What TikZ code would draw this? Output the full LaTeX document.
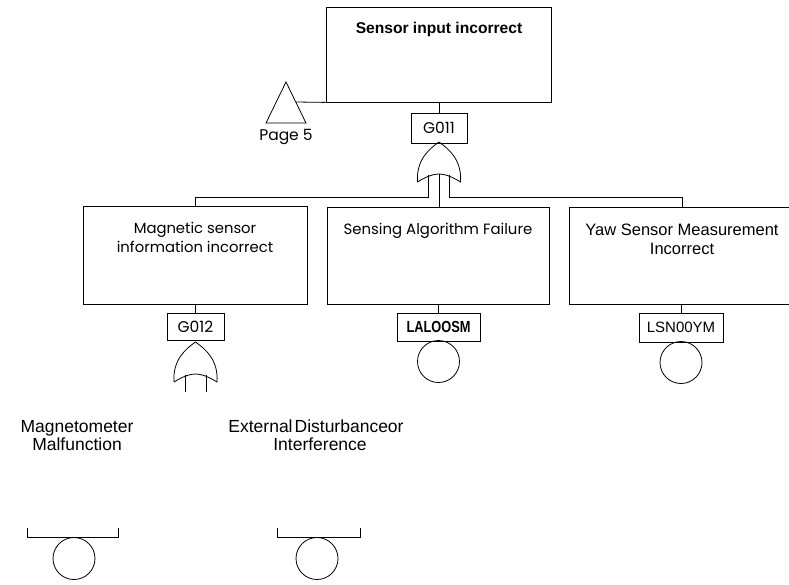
\documentclass[tikz,border=0pt]{standalone}
\usepackage{fontspec}
\usepackage{graphicx}
\setmainfont{Liberation Sans}
\newfontfamily\geo{Poppins}
\begin{document}
\begin{tikzpicture}[x=1pt,y=-1pt,line width=0.8pt,
  evbox/.style={draw,rectangle,inner sep=0pt},
  tagbox/.style={draw,rectangle,inner sep=0pt},
  basic/.style={draw,circle,minimum size=42pt,inner sep=0pt},
  geotext/.style={font=\geo\fontsize{14.8}{17}\selectfont,anchor=base,inner sep=0pt},
  armtext/.style={font=\fontsize{16.5}{19}\selectfont,anchor=base,inner sep=0pt},
  lowtext/.style={font=\fontsize{17.5}{20}\selectfont,anchor=base,inner sep=0pt},
  tagtext/.style={font=\geo\fontsize{15.5}{17}\selectfont},
  orgate/.pic={
    \draw (-21.5,40) .. controls (-23,18) and (-10,7) .. (0,0)
      .. controls (10,7) and (23,18) .. (21.5,40)
      .. controls (12,34) and (5,32) .. (0,32)
      .. controls (-5,32) and (-12,34) .. (-21.5,40);
  }]
\clip (0,0) rectangle (789,584);
\fill[white] (0,0) rectangle (789,584);

% top event and transfer symbol
\node[evbox,minimum width=225pt,minimum height=95pt] (top) at (438.5,54.5) {};
\node[font=\bfseries\fontsize{15.6}{18}\selectfont,anchor=base,inner sep=0pt] (toptxt) at (439,33) {Sensor input incorrect};
\draw (286,82) -- (306,123) -- (266,123) -- cycle;
\coordinate (xfer) at (296,102);
\node[geotext,font=\geo\fontsize{15.5}{17}\selectfont] (page) at (286,140) {Page 5};
\draw (top.south west) -- (xfer);

% gate G011
\node[tagbox,tagtext,minimum width=56pt,minimum height=30pt] (g011) at (439,128) {G011};
\draw (g011.north |- top.south) -- (g011.north);
\pic at (439,142) {orgate};
\coordinate (g1l) at (428,175);
\coordinate (g1c) at (439,174);
\coordinate (g1r) at (449,175);
\coordinate (bus) at (0,197);

% intermediate events
\node[evbox,minimum width=224pt,minimum height=98pt] (mag) at (195,255) {};
\node[geotext] (magt1) at (195,233) {Magnetic sensor};
\node[geotext] (magt2) at (195,252) {information incorrect};
\node[evbox,minimum width=222pt,minimum height=97pt] (sens) at (438,255.5) {};
\node[geotext,font=\geo\fontsize{14.9}{17}\selectfont] (senst) at (438,234) {Sensing Algorithm Failure};
\node[evbox,minimum width=226pt,minimum height=97pt] (yaw) at (682,255.5) {};
\node[armtext] (yawt1) at (682,235) {Yaw Sensor Measurement};
\node[armtext] (yawt2) at (682,254) {Incorrect};

\draw (g1l) -- (g1l |- bus) -| (mag.north);
\draw (g1c) -- (g1c |- sens.north);
\draw (g1r) -- (g1r |- bus) -| (yaw.north);

% gate G012 under the magnetic sensor event
\node[tagbox,tagtext,minimum width=57pt,minimum height=27pt] (g012) at (195.5,326.5) {G012};
\draw (g012.north |- mag.south) -- (g012.north);
\pic at (195.5,342) {orgate};
\coordinate (g2l) at (185,375);
\coordinate (g2r) at (206,375);
\coordinate (g2lend) at (185,392);
\coordinate (g2rend) at (206,392);
\draw (g2l) -- (g2lend);
\draw (g2r) -- (g2rend);

% basic events
\node[tagbox,minimum width=83pt,minimum height=28pt] (lal) at (438.5,327) {\bfseries\fontsize{16}{18}\selectfont\scalebox{0.8}[1]{LALOOSM}};
\draw (lal.north |- sens.south) -- (lal.north);
\node[basic] (lalc) at (438.5,361.5) {};
\node[tagbox,minimum width=84pt,minimum height=29pt,font=\fontsize{15}{17}\selectfont] (lsn) at (681,327.5) {LSN00YM};
\draw (lsn.north |- yaw.south) -- (lsn.north);
\node[basic] (lsnc) at (681,362.5) {};

% lower row of basic events
\node[lowtext] (mm1) at (77,432) {Magnetometer};
\node[lowtext] (mm2) at (77,450) {Malfunction};
\node[lowtext] (ed1) at (316,432) {External\hspace{2pt}Disturbanceor};
\node[lowtext] (ed2) at (320,450) {Interference};
\coordinate (b1l) at (27,528);
\coordinate (b1r) at (118,528);
\draw (b1l) |- (118,537) -- (b1r);
\node[basic] (b1c) at (74,558.5) {};
\coordinate (b2l) at (277,528);
\coordinate (b2r) at (360,528);
\draw (b2l) |- (360,537) -- (b2r);
\node[basic] (b2c) at (317,558.5) {};
\end{tikzpicture}
\end{document}
